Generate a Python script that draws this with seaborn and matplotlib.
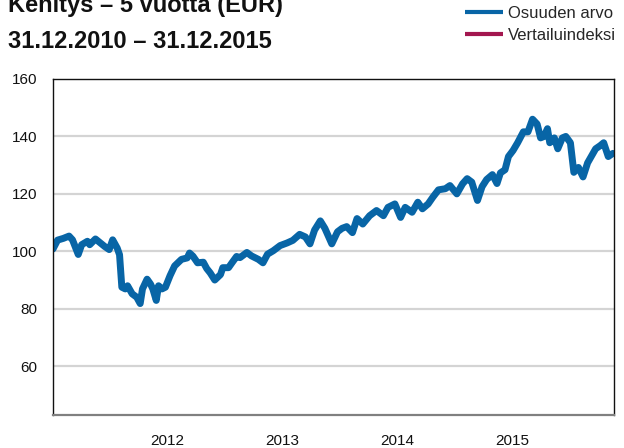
import matplotlib
matplotlib.use("Agg")
import matplotlib.pyplot as plt
import pandas as pd
import seaborn as sns

# Osuuden arvo, indeksoitu 100 = 31.12.2010 (arvot luettu kuvasta)
years = [
    2011.00, 2011.04, 2011.09, 2011.14, 2011.17, 2011.22, 2011.25, 2011.30, 2011.32, 2011.37,
    2011.41, 2011.45, 2011.49, 2011.52, 2011.56, 2011.58, 2011.60, 2011.63, 2011.65, 2011.69,
    2011.73, 2011.76, 2011.78, 2011.82, 2011.85, 2011.87, 2011.90, 2011.92, 2011.95, 2011.98,
    2012.02, 2012.06, 2012.12, 2012.17, 2012.19, 2012.22, 2012.26, 2012.31, 2012.34, 2012.37,
    2012.41, 2012.46, 2012.48, 2012.53, 2012.56, 2012.60, 2012.63, 2012.69, 2012.73, 2012.79,
    2012.83, 2012.87, 2012.92, 2012.98, 2013.04, 2013.09, 2013.15, 2013.20, 2013.24, 2013.28,
    2013.33, 2013.37, 2013.43, 2013.48, 2013.52, 2013.56, 2013.61, 2013.65, 2013.70, 2013.76,
    2013.82, 2013.88, 2013.92, 2013.98, 2014.03, 2014.07, 2014.13, 2014.18, 2014.22, 2014.27,
    2014.31, 2014.36, 2014.42, 2014.46, 2014.52, 2014.57, 2014.61, 2014.65, 2014.70, 2014.74,
    2014.78, 2014.83, 2014.87, 2014.90, 2014.94, 2014.97, 2015.01, 2015.05, 2015.10, 2015.14,
    2015.18, 2015.22, 2015.25, 2015.28, 2015.31, 2015.33, 2015.37, 2015.40, 2015.44, 2015.47,
    2015.51, 2015.54, 2015.58, 2015.62, 2015.66, 2015.73, 2015.77, 2015.80, 2015.84, 2015.88,
]
fund_value = [
    100.8, 103.9, 104.5, 105.3, 104.0, 98.9, 102.3, 103.5, 102.3, 104.3,
    103.0, 101.7, 100.6, 104.0, 101.1, 98.8, 87.5, 86.9, 88.0, 85.2,
    84.0, 81.8, 86.9, 90.3, 88.6, 86.9, 82.9, 88.0, 86.9, 87.5,
    91.5, 94.9, 97.2, 97.7, 99.4, 98.3, 96.0, 96.2, 94.0, 92.5,
    90.0, 91.9, 94.3, 94.3, 96.0, 98.2, 97.8, 99.6, 98.4, 97.2,
    96.0, 99.0, 100.2, 102.0, 102.9, 103.8, 105.9, 105.0, 102.6, 107.4,
    110.6, 108.0, 102.6, 106.8, 108.0, 108.6, 106.5, 111.4, 109.5, 112.4,
    114.2, 112.4, 115.3, 116.5, 111.8, 115.3, 113.6, 117.1, 114.8, 116.5,
    118.8, 121.4, 121.8, 122.9, 120.0, 123.5, 125.3, 124.1, 117.7, 122.5,
    125.0, 126.7, 123.6, 127.3, 128.4, 133.0, 135.1, 137.8, 141.6, 141.6,
    146.0, 144.3, 139.5, 140.0, 142.7, 137.8, 139.5, 135.7, 139.5, 140.0,
    137.8, 127.5, 129.2, 125.9, 130.8, 135.7, 136.8, 137.8, 133.0, 134.1,
]

y_ticks = [60, 80, 100, 120, 140, 160]
x_ticks = [2012, 2013, 2014, 2015]
x_tick_labels = ["2012", "2013", "2014", "2015"]

title_1 = "Kehitys – 5 vuotta (EUR)"
title_2 = "31.12.2010 – 31.12.2015"
series_names = ["Osuuden arvo", "Vertailuindeksi"]
blue = "#0865A6"
red = "#A3174F"

df = pd.DataFrame({"vuosi": years, "arvo": fund_value})

sns.set_style("white")
plt.rcParams["font.family"] = ["Liberation Sans", "DejaVu Sans"]

fig = plt.figure(figsize=(6.24, 4.48), dpi=100)
ax = fig.add_axes([53 / 624, 1 - 415 / 448, 561 / 624, 336 / 448])

sns.lineplot(data=df, x="vuosi", y="arvo", ax=ax, color=blue, linewidth=5,
             label=series_names[0], legend=False, solid_capstyle="round",
             solid_joinstyle="round")
# vertailuindeksi: vain selitteessä
ax.plot([], [], color=red, linewidth=3, label=series_names[1])

ax.set_xlim(2011.0, 2015.89)
ax.set_ylim(43, 160)
ax.set_yticks(y_ticks)
ax.set_xticks(x_ticks)
ax.set_xticklabels(x_tick_labels)
ax.set_xlabel("")
ax.set_ylabel("")
ax.tick_params(axis="y", length=0, pad=11, labelsize=11, colors="#111111")
ax.tick_params(axis="x", length=0, pad=14, labelsize=11, colors="#111111")
for y in y_ticks[:-1]:
    ax.axhline(y, color="#d4d4d4", linewidth=1.6, zorder=0)

for side in ["left", "top", "right"]:
    ax.spines[side].set_color("#111111")
    ax.spines[side].set_linewidth(1.0)
ax.spines["bottom"].set_color("#808080")
ax.spines["bottom"].set_linewidth(1.6)

fig.text(8 / 624, 1 - 12 / 448, title_1, fontsize=17, fontweight="bold",
         va="baseline", ha="left", color="#111111")
fig.text(8 / 624, 1 - 48 / 448, title_2, fontsize=17, fontweight="bold",
         va="baseline", ha="left", color="#111111")

handles, labels = ax.get_legend_handles_labels()
leg = fig.legend(handles, labels, loc="upper left",
                 bbox_to_anchor=(465 / 624, 1 - 6 / 448), frameon=False,
                 fontsize=12, handlelength=2.3, handletextpad=0.25,
                 labelspacing=0.4, borderpad=0, borderaxespad=0)
for line in leg.get_lines():
    line.set_linewidth(3)
    line.set_solid_capstyle("butt")

fig.savefig("out.png", dpi=100)
